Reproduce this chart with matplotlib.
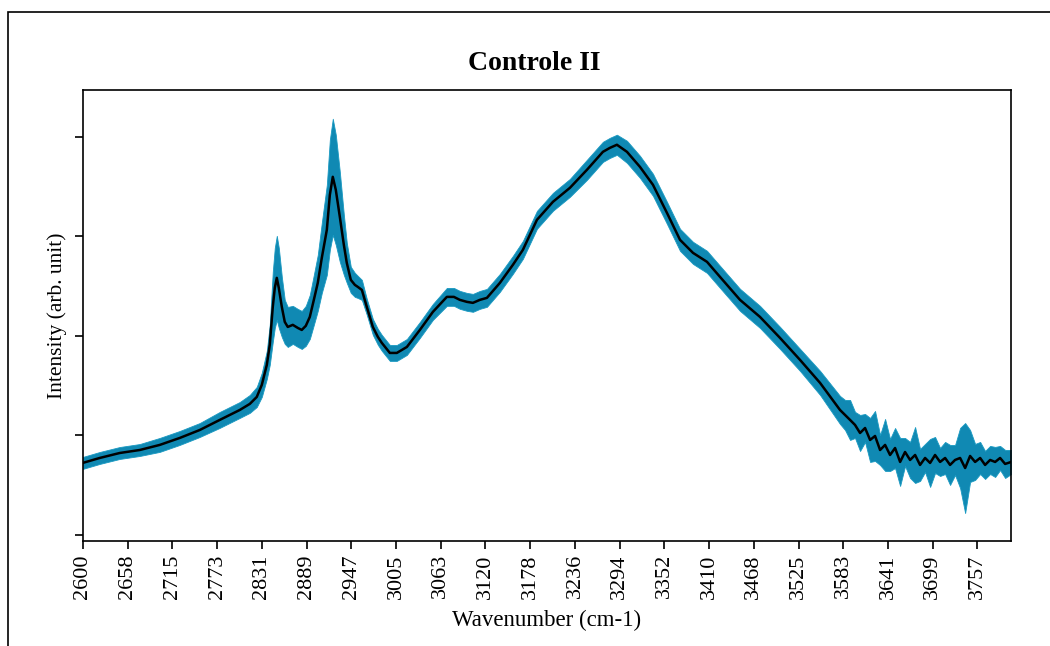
import numpy as np
import matplotlib
matplotlib.use("Agg")
import matplotlib.pyplot as plt
from matplotlib.patches import Rectangle

# Pixel-read estimates converted to data units
px = [83,100,120,140,160,180,200,220,240,250,257,262,267,270,273,275,277,279,282,285,
      288,293,298,302,306,310,314,318,322,327,330,333,336,340,344,347,351,355,358,362,
      367,373,378,382,390,397,407,420,433,447,454,460,467,473,480,487,500,513,523,537,
      553,570,587,603,610,617,627,640,653,667,680,693,707,720,740,760,780,800,820,840,
      845,850,855,860,865,870,875,880,885,890,895,900,905,910,915,920,925,930,935,940,
      945,950,955,960,965,970,975,980,985,990,995,1000,1005,1011]
py = [463,458,453,450,445,438,430,420,410,404,397,385,365,345,307,288,278,288,307,322,
      327,325,328,330,326,317,300,283,258,230,195,177,190,217,245,263,280,285,287,290,
      307,327,337,343,353,353,347,330,312,297,297,300,302,303,300,298,283,265,250,220,
      202,188,170,152,148,145,152,167,185,213,240,253,262,277,300,317,338,360,383,410,
      415,420,425,433,428,440,436,450,445,455,448,462,452,460,455,465,458,463,455,462,
      458,465,460,458,468,456,462,458,465,460,462,458,464,462]
pe = [6,6,6,6,7,7,7,8,8,9,10,12,14,20,35,40,42,40,30,22,
      20,19,19,19,20,22,25,28,35,45,55,58,55,45,30,20,13,12,11,10,
      8,8,8,8,8,8,8,8,8,9,9,9,9,9,9,9,9,9,9,9,
      9,9,10,10,10,10,11,11,11,11,11,11,11,11,11,11,11,11,12,14,
      15,20,13,18,14,22,25,15,26,16,20,24,14,18,28,16,14,24,18,14,
      16,20,15,30,45,26,18,16,14,14,15,12,14,12]

wavenumber = [round(2600 + (p - 83.3) * 1.2937, 1) for p in px]
intensity = [round((535 - v) / 99.5, 3) for v in py]
std = [round(e / 99.5, 3) for e in pe]

tick_labels = ["2600","2658","2715","2773","2831","2889","2947","3005","3063","3120",
               "3178","3236","3294","3352","3410","3468","3525","3583","3641","3699","3757"]

plt.rcParams['font.family'] = ['Liberation Serif', 'DejaVu Serif']

fig = plt.figure(figsize=(10.5, 6.46), dpi=100)
W, H = 1050, 646
ax = fig.add_axes([83/W, 1-541/H, (1011-83)/W, (541-90)/H])

x = np.array(wavenumber)
y = np.array(intensity)
s = np.array(std)
ax.fill_between(x, y - s, y + s, color='#1089b3', lw=0.6, edgecolor='#1a9ac2')
ax.plot(x, y, color='black', lw=1.8)

step = 1156.6 / 20
ax.set_xticks([2600 + k * step for k in range(len(tick_labels))])
ax.set_xticklabels(tick_labels, rotation=90, fontsize=16)
ax.set_xlim(2600, 3800)
ax.set_ylim(-0.06, 4.47)
ax.set_yticks([0, 1, 2, 3, 4])
ax.set_yticklabels([])
ax.tick_params(direction='out', length=6, width=1.2)
for sp in ax.spines.values():
    sp.set_linewidth(1.2)

ax.set_xlabel("Wavenumber (cm-1)", fontsize=16.5, labelpad=8)
ax.set_ylabel("Intensity (arb. unit)", fontsize=15.5, labelpad=2)
fig.text(534/W, 1-63/H, "Controle II", ha='center', va='center', fontsize=20, fontweight='bold')

fig.patches.append(Rectangle((8/W, -0.1), 1.2, 1.1 - 12/H, transform=fig.transFigure,
                             fill=False, edgecolor='black', lw=1.2))

fig.savefig("out.png", dpi=100)
